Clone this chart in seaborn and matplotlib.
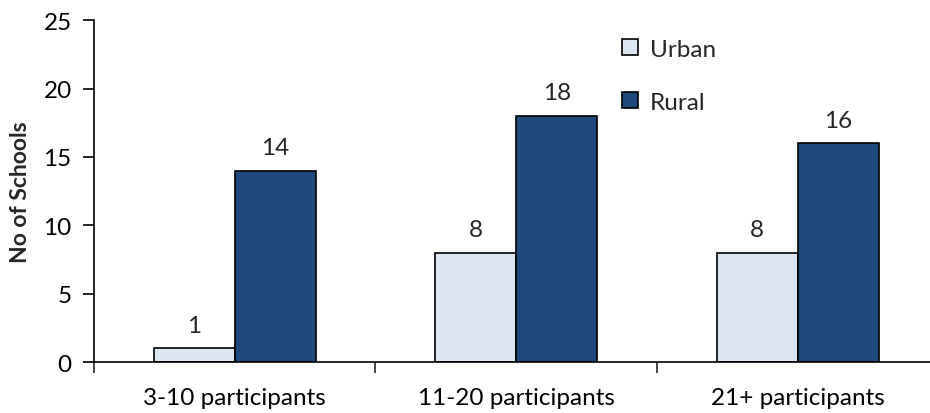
import pandas as pd
import matplotlib
matplotlib.use("Agg")
import matplotlib.pyplot as plt
import seaborn as sns

# values
groups = ["3-10 participants", "11-20 participants", "21+ participants"]
urban = [1, 8, 8]
rural = [14, 18, 16]
series = ["Urban", "Rural"]
colors = ["#DCE6F2", "#1F497D"]

df = pd.DataFrame({
    "group": groups * 2,
    "area": ["Urban"] * len(groups) + ["Rural"] * len(groups),
    "schools": urban + rural,
})

sns.set_style("white")
plt.rcParams["font.family"] = ["Lato", "DejaVu Sans"]

fig = plt.figure(figsize=(9.3, 4.14), dpi=100)
ax = fig.add_axes([0.101, 0.123, 0.908, 0.826])

sns.barplot(data=df, x="group", y="schools", hue="area", hue_order=series,
            palette=colors, width=0.575, edgecolor="black", linewidth=1.2,
            saturation=1, ax=ax)

for cont in ax.containers:
    ax.bar_label(cont, fmt="%d", padding=9, fontsize=17.5)

ax.set_xlim(-0.5, 2.5)
ax.set_ylim(0, 25)
ax.set_yticks(range(0, 26, 5))
ax.set_xlabel("")
ax.set_ylabel("No of Schools", fontsize=16.5, fontweight="bold", labelpad=9)

for side in ["top", "right"]:
    ax.spines[side].set_visible(False)
for side in ["left", "bottom"]:
    ax.spines[side].set_color("black")
    ax.spines[side].set_linewidth(1.2)

ax.set_xticks([-0.5, 0.5, 1.5, 2.5], minor=True)
ax.tick_params(axis="x", which="major", length=0, labelsize=17.5, pad=18, colors="black")
ax.tick_params(axis="x", which="minor", length=8, width=1.2, direction="out", bottom=True)
ax.tick_params(axis="y", which="major", length=8, width=1.2, direction="out", left=True,
               labelsize=17.5, pad=8, colors="black")

ax.legend(frameon=False, loc="upper left", bbox_to_anchor=(0.625, 0.945),
          borderaxespad=0, borderpad=0,
          fontsize=17.5, handlelength=0.65, handleheight=0.65, handletextpad=0.5,
          labelspacing=1.3)

fig.savefig("out.png", dpi=100)
